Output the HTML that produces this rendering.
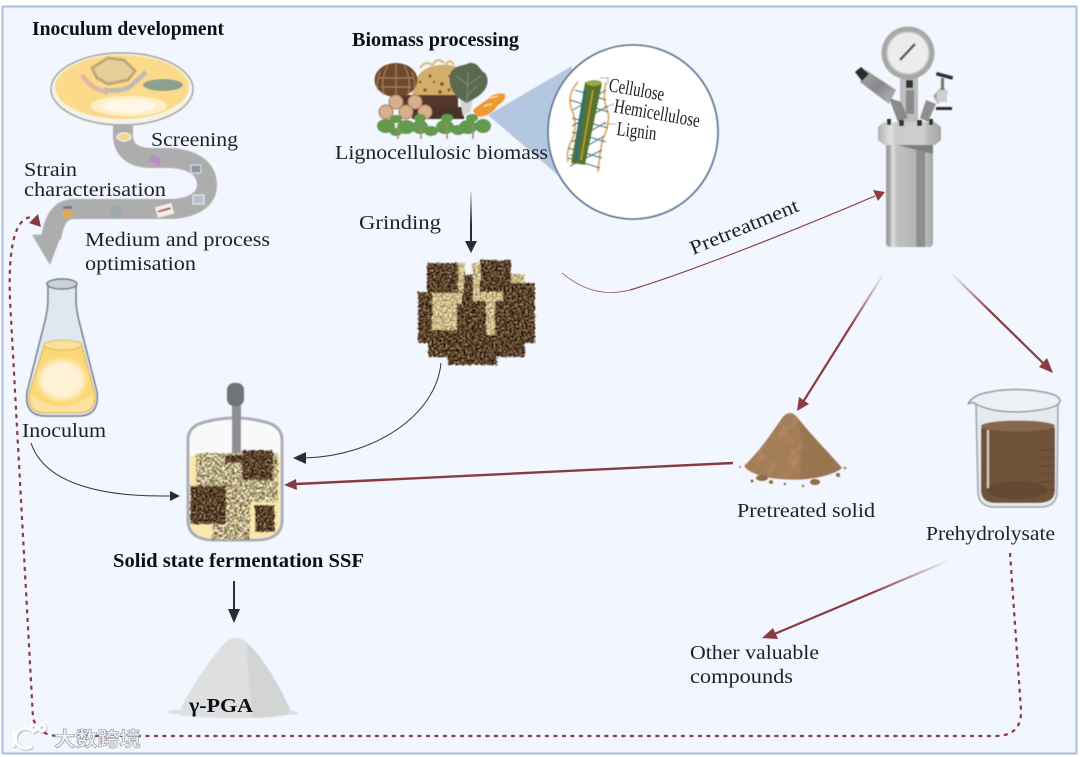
<!DOCTYPE html>
<html lang="en"><head><meta charset="utf-8"><title>SSF process</title>
<style>
html,body{margin:0;padding:0;background:#fff;width:1080px;height:757px;overflow:hidden}
svg{display:block}
text{font-family:"Liberation Serif","Noto Serif CJK SC",serif;fill:#1d2025;font-size:20px}
.b{font-weight:bold;fill:#0f1114}
</style></head><body>
<svg width="1080" height="757" viewBox="0 0 1080 757" xmlns="http://www.w3.org/2000/svg">
<defs>
<filter id="dark" x="-10%" y="-10%" width="120%" height="120%" color-interpolation-filters="sRGB">
<feTurbulence type="fractalNoise" baseFrequency="0.5" numOctaves="2" seed="4" result="n"/>
<feDisplacementMap in="SourceGraphic" in2="n" scale="4" result="d"/>
<feColorMatrix in="n" type="matrix" values="1.5 0 0 0 -0.43  1.3 0 0 0 -0.42  1 0 0 0 -0.35  0 0 0 0 1" result="c"/>
<feComposite in="c" in2="d" operator="in"/>
</filter>
<filter id="light" x="-10%" y="-10%" width="120%" height="120%" color-interpolation-filters="sRGB">
<feTurbulence type="fractalNoise" baseFrequency="0.5" numOctaves="2" seed="9" result="n"/>
<feDisplacementMap in="SourceGraphic" in2="n" scale="3" result="d"/>
<feColorMatrix in="n" type="matrix" values="1.1 0 0 0 .24  1.1 0 0 0 .17  1.1 0 0 0 -.02  0 0 0 0 1" result="c"/>
<feComposite in="c" in2="d" operator="in"/>
</filter>
<filter id="lightG" x="-10%" y="-10%" width="120%" height="120%" color-interpolation-filters="sRGB">
<feTurbulence type="fractalNoise" baseFrequency="0.4" numOctaves="2" seed="5" result="n"/>
<feDisplacementMap in="SourceGraphic" in2="n" scale="4" result="d"/>
<feColorMatrix in="n" type="matrix" values="1.5 0 0 0 -.04  1.5 0 0 0 -.09  1.7 0 0 0 -.35  0 0 0 0 1" result="c"/>
<feComposite in="c" in2="d" operator="in"/>
</filter>
<filter id="mott" x="-5%" y="-5%" width="110%" height="110%" color-interpolation-filters="sRGB">
<feTurbulence type="fractalNoise" baseFrequency="0.09" numOctaves="2" seed="7" result="n"/>
<feColorMatrix in="n" type="matrix" values="0 0 0 0 .74  0 0 0 0 .57  0 0 0 0 .41  1.8 0 0 0 -.85" result="c"/>
<feComposite in="c" in2="SourceGraphic" operator="in" result="s"/>
<feMerge><feMergeNode in="SourceGraphic"/><feMergeNode in="s"/></feMerge>
</filter>
<filter id="soft" x="-5%" y="-5%" width="110%" height="110%"><feGaussianBlur stdDeviation="0.45"/></filter>
<filter id="softT" x="-5%" y="-5%" width="110%" height="110%"><feGaussianBlur stdDeviation="0.28"/></filter>
<filter id="blur3" x="-30%" y="-30%" width="160%" height="160%"><feGaussianBlur stdDeviation="2.6"/></filter>
<linearGradient id="fGrind" gradientUnits="userSpaceOnUse" x1="471" y1="192" x2="471" y2="225"><stop offset="0" stop-color="#2b2d31" stop-opacity=".1"/><stop offset="1" stop-color="#2b2d31"/></linearGradient>
<linearGradient id="fA" gradientUnits="userSpaceOnUse" x1="884" y1="273" x2="850" y2="328"><stop offset="0" stop-color="#8a3a42" stop-opacity="0"/><stop offset="1" stop-color="#8a3a42"/></linearGradient>
<linearGradient id="fB" gradientUnits="userSpaceOnUse" x1="951" y1="273" x2="990" y2="312"><stop offset="0" stop-color="#8a3a42" stop-opacity="0"/><stop offset="1" stop-color="#8a3a42"/></linearGradient>
<linearGradient id="fC" gradientUnits="userSpaceOnUse" x1="950" y1="560" x2="870" y2="594"><stop offset="0" stop-color="#8a3a42" stop-opacity="0"/><stop offset="1" stop-color="#8a3a42"/></linearGradient>
<linearGradient id="steel" x1="0" x2="1" y1="0" y2="0">
<stop offset="0" stop-color="#9c9c9c"/><stop offset=".08" stop-color="#a6a6a6"/><stop offset=".14" stop-color="#e0e0e0"/><stop offset=".24" stop-color="#c0c0c0"/><stop offset=".64" stop-color="#b4b4b4"/><stop offset=".65" stop-color="#8e8e8e"/><stop offset=".83" stop-color="#8e8e8e"/><stop offset=".84" stop-color="#bcbcbc"/><stop offset="1" stop-color="#a8a8a8"/>
</linearGradient>
<linearGradient id="lid" x1="0" x2="1" y1="0" y2="0">
<stop offset="0" stop-color="#b0b0b0"/><stop offset=".2" stop-color="#e2e2e2"/><stop offset=".28" stop-color="#cacaca"/><stop offset=".7" stop-color="#cfcfcf"/><stop offset=".8" stop-color="#bbb"/><stop offset="1" stop-color="#a6a6a6"/>
</linearGradient>
<linearGradient id="arm" x1="0" x2="1" y1="0" y2="1"><stop offset="0" stop-color="#aaa"/><stop offset=".5" stop-color="#888"/><stop offset="1" stop-color="#bbb"/></linearGradient>
</defs>

<rect x="0" y="0" width="1080" height="757" fill="#fff"/>
<rect x="2.5" y="6.5" width="1074" height="747" fill="#f2f6fe" stroke="#a9bcdc" stroke-width="2"/>

<g filter="url(#soft)">
<!-- Petri dish -->
<ellipse cx="122" cy="89" rx="71" ry="36" fill="#f4f2ea" stroke="#a5a39a" stroke-width="1.5"/>
<ellipse cx="122" cy="87" rx="67" ry="32" fill="#fbdb89"/>
<path d="M92 68 L108 58 L124 60 L135 71 L128 80 L108 84 L97 78Z" fill="#e0cd9e" stroke="#b39878" stroke-width="3" opacity=".8"/>
<path d="M82 75 Q90 88 108 93" stroke="#e7b4a6" stroke-width="5" fill="none"/>
<path d="M104 90 Q125 92 132 85 L146 72" stroke="#c2bcb0" stroke-width="5" fill="none"/>
<ellipse cx="163" cy="85" rx="20" ry="6" fill="#8ca08e"/>
<ellipse cx="129" cy="106" rx="38" ry="10" fill="#fdf0c8"/>
<ellipse cx="129" cy="106" rx="26" ry="7" fill="#fff8e6"/>
<!-- road -->
<path d="M123 124 V136 Q124 157 150 158 H172 C195 160 207 170 207 185 C207 200 192 208 172 209 H75 C60 209 55 218 51 238" fill="none" stroke="#adadad" stroke-width="20"/>
<polygon points="32,235 62,233 50,265" fill="#adadad"/>
<ellipse cx="124" cy="137" rx="7" ry="4" fill="#f2d58a" stroke="#fff" stroke-width="1"/>
<rect x="150" y="156" width="11" height="8" fill="#b68fc0" transform="rotate(25 155 160)"/>
<rect x="191" y="165" width="10" height="8" fill="#8d96a4" stroke="#dfe3ea"/>
<rect x="193" y="195" width="11" height="9" fill="#b7c1cc" stroke="#e8edf4"/>
<rect x="156" y="205" width="17" height="11" fill="#f4ede6" transform="rotate(-15 164 210)"/>
<rect x="158" y="209" width="13" height="2" fill="#a84a50" transform="rotate(-15 164 210)"/>
<rect x="111" y="206" width="11" height="12" fill="#97a7ad" opacity=".8"/>
<rect x="63" y="208" width="9" height="10" fill="#e0aa55"/><rect x="63" y="206" width="9" height="3" fill="#5f7fa0"/>

<!-- Flask -->
<path d="M48 285 H76 V300 Q76 310 80 325 L97 392 Q100 416 78 416 H46 Q24 416 27 392 L44 325 Q48 310 48 300Z" fill="#dfe7f0" stroke="#6e7683" stroke-width="1.5"/>
<path d="M44 346 Q62 350 82 346 L95 394 Q97 413 78 413 H46 Q27 413 29 394Z" fill="#fbd876" stroke="#e2ae45" stroke-width="1"/>
<ellipse cx="63" cy="345" rx="19" ry="5" fill="#fde098" stroke="#d7a83f" stroke-width=".8"/>
<path d="M31 394 Q60 418 93 394 L94 400 Q92 412 78 412 H46 Q31 412 31 400Z" fill="#fbe39f"/>
<ellipse cx="62" cy="380" rx="23" ry="20" fill="#fff2d6" filter="url(#blur3)"/>
<ellipse cx="62" cy="284" rx="15" ry="5" fill="#c9d2dc" stroke="#6e7683" stroke-width="1.5"/>

<!-- Biomass -->
<path d="M412 96 Q414 72 430 67 Q445 62 460 68 L466 97 H412Z" fill="#d1ae69"/>
<path d="M420 68 q6 -8 12 -3 M432 66 q5 -10 12 -3 M445 66 q4 -9 9 -1" stroke="#d9b86f" stroke-width="2" fill="none"/>
<g fill="#7d5e2b"><circle cx="430" cy="76" r="1.6"/><circle cx="442" cy="84" r="2"/><circle cx="425" cy="90" r="1.8"/><circle cx="450" cy="76" r="1.6"/><circle cx="440" cy="92" r="2"/><circle cx="434" cy="82" r="1.2"/><circle cx="420" cy="82" r="1.4"/><circle cx="449" cy="90" r="1.6"/></g>
<ellipse cx="396" cy="80" rx="21.5" ry="17" fill="#6f4a2c"/>
<path d="M396 64 V96 M388 65 Q380 80 384 95 M404 65 Q412 80 408 95 M380 72 Q376 82 378 90 M412 72 Q416 82 414 90 M379 78 H413 M381 87 H411" stroke="#a08060" stroke-width="1.2" fill="none"/>
<rect x="400" y="95" width="58" height="13" fill="#54382a"/>
<rect x="412" y="107" width="52" height="12" fill="#4a3025"/>
<g fill="#d8ae8b" stroke="#a17a5c" stroke-width="1">
<circle cx="396" cy="102" r="7"/><circle cx="415" cy="102" r="7"/><circle cx="386" cy="112" r="7"/><circle cx="406" cy="112" r="7"/><circle cx="425" cy="112" r="7"/></g>
<path d="M460 100 L463 116 L470 112 L473 100Z" fill="#cfd8d0"/>
<path d="M467 103 C451 96 447 82 451 72 C455 65 464 66 469 63 C479 62 479 70 485 73 C490 80 488 90 477 97 Z" fill="#5a6a50"/>
<path d="M467 102 L468 72 M468 85 L456 76 M468 85 L481 76 M468 95 L478 85" stroke="#7f8f70" stroke-width="1" fill="none"/>
<path d="M473 110 Q480 104 488 99 Q494 92 505 94 Q506 101 498 105 Q492 115 480 117 Q474 115 473 110Z" fill="#ee9a2f"/>
<path d="M490 98 l8 -2 M484 106 l8 -2" stroke="#fbd9a0" stroke-width="1.5"/>
<g fill="#649a4f">
<ellipse cx="386" cy="126" rx="9" ry="7"/><ellipse cx="396" cy="119" rx="6" ry="4"/><ellipse cx="396" cy="132" rx="6" ry="4"/><ellipse cx="406" cy="127" rx="9" ry="7"/><ellipse cx="420" cy="127" rx="8" ry="7"/><ellipse cx="420" cy="118" rx="6" ry="4"/><ellipse cx="431" cy="131" rx="7" ry="5"/><ellipse cx="445" cy="127" rx="9" ry="7"/><ellipse cx="447" cy="118" rx="6" ry="4"/><ellipse cx="458" cy="130" rx="7" ry="5"/><ellipse cx="468" cy="127" rx="9" ry="7"/><ellipse cx="472" cy="118" rx="6" ry="4"/><ellipse cx="483" cy="126" rx="8" ry="7"/></g>
<path d="M398 124 V139 M421 124 V139 M447 124 V139 M473 124 V139" stroke="#9a8a70" stroke-width="1.5"/>

<!-- Magnifier -->
<polygon points="488,115 572,66 566,182" fill="#b4c7e0"/>
<ellipse cx="633" cy="132" rx="85" ry="87" fill="#fff" stroke="#47608a" stroke-width="1.6"/>
<path d="M578 82 Q566 95 572 110 Q578 125 572 140 Q566 150 568 162" stroke="#e3a64a" stroke-width="1.8" fill="none"/>
<path d="M606 82 Q602 100 608 112 Q610 125 603 138 Q600 150 598 172" stroke="#e3a64a" stroke-width="1.8" fill="none"/>
<g stroke="#3a7b8c" stroke-width="1.3">
<path d="M570 100 L608 112 M606 90 L573 110 M572 118 L608 128 M608 106 L572 126 M572 132 L606 142 M606 122 L572 142 M568 148 L602 158 M604 136 L570 156 M568 158 L600 168 M602 150 L570 166 M575 90 L606 100"/></g>
<polygon points="585,82 602,84 585,165 571,163" fill="#56742a"/>
<ellipse cx="594" cy="83" rx="8" ry="3" fill="#9aa845"/>
<path d="M585 90 L576 160" stroke="#2f6f78" stroke-width="3"/>
<path d="M593 90 L581 160" stroke="#c99a38" stroke-width="1.5"/>
<path d="M600 78 H608 V84 M608 106 L614 104 M602 124 H616" stroke="#888" stroke-width=".8" fill="none"/>
</g>

<g filter="url(#soft)">
<!-- Ground biomass block -->
<path d="M457 263 H465 V300 H457Z M472 263 H480 V292 H472Z M510 274 H525 V284 H510Z" fill="#000" filter="url(#light)"/>
<g filter="url(#dark)" fill="#000">
<rect x="427" y="263" width="31" height="31"/>
<rect x="480" y="260" width="31" height="33"/>
<rect x="464" y="275" width="9" height="20"/>
<path d="M418 292 H510 V283 H535 V343 H525 V357 H497 V365 H448 V357 H428 V343 H418Z"/>
</g>
<path d="M432 293 H462 V304 H457 V330 H432Z" fill="#000" filter="url(#light)"/>
<path d="M473 292 H503 V301 H495 V335 H486 V301 H473Z" fill="#000" filter="url(#light)"/>

<!-- SSF vessel -->
<path d="M188 440 Q188 426 205 422 Q235 414 265 422 Q282 426 282 440 V520 Q282 540 255 540 H215 Q188 540 188 520Z" fill="#f9f9f9" stroke="#a9adb4" stroke-width="3"/>
<path d="M190 455 H280 V520 Q280 538 255 538 H215 Q190 538 190 520Z" fill="#fbe6ab"/>
<rect x="232" y="402" width="9" height="56" fill="#8c9095"/>
<rect x="227" y="383" width="17" height="23" rx="7" fill="#6f7378"/>
<path d="M196 453 H278 V502 H250 V540 H212 V524 H196Z" fill="#000" filter="url(#lightG)"/>
<g filter="url(#dark)" fill="#000">
<rect x="242" y="450" width="31" height="30"/>
<rect x="190" y="486" width="36" height="38"/>
<rect x="255" y="505" width="20" height="27"/>
<rect x="225" y="455" width="17" height="8"/>
</g>

<!-- γ-PGA pile -->
<path d="M178 715 C187 695 200 672 222 646 Q234 632 246 642 C262 655 282 690 292 714 Q240 722 178 715Z" fill="#dedfdf"/>
<path d="M246 642 C262 655 282 690 292 714 Q270 718 252 718 L248 665Z" fill="#d3d4d4"/>
<ellipse cx="176" cy="712" rx="8" ry="2" fill="#dedfdf"/><ellipse cx="293" cy="713" rx="5" ry="2" fill="#dedfdf"/>

<!-- Reactor -->
<rect x="886" y="140" width="47" height="107" rx="4" fill="url(#steel)"/>
<path d="M897 145 H933 V154Z" fill="#7e7e7e"/>
<path d="M884 122 H935 L941 127 V140 L935 145 H884 L878 140 V127Z" fill="url(#lid)"/>
<rect x="900" y="76" width="18" height="46" fill="#bdbdbd"/>
<rect x="906" y="90" width="8" height="24" fill="#8a8a8a"/>
<rect x="906" y="80" width="7" height="8" fill="#333"/>
<polygon points="866,70 896,90 889,104 860,82" fill="url(#arm)"/>
<polygon points="889,98 901,102 908,118 898,122" fill="#8a8a8a"/>
<polygon points="926,100 936,104 928,122 920,118" fill="#8f8f8f"/>
<polygon points="933,96 942,86 948,92 938,104" fill="#a8a8a8"/>
<rect x="937" y="90" width="10" height="12" fill="#cfcfcf"/>
<polygon points="855,72 861,67 869,74 862,81" fill="#2b2b2b"/>
<rect x="936" y="74" width="17" height="3.5" fill="#2e2e2e" transform="rotate(15 944 76)"/>
<rect x="936" y="107" width="16" height="3" fill="#2e2e2e"/>
<rect x="941" y="78" width="3" height="12" fill="#777"/>
<g fill="#2f3033"><rect x="887" y="119" width="4" height="6"/><rect x="899" y="120" width="5" height="6"/><rect x="917" y="120" width="5" height="6"/><rect x="929" y="119" width="4" height="6"/></g>
<circle cx="908" cy="53" r="26.5" fill="#a8a8a8"/>
<circle cx="908" cy="53" r="21" fill="#ececec" stroke="#c6c6c6" stroke-width="1.5"/>
<path d="M900 60 L915 44" stroke="#555" stroke-width="2.5"/>

<!-- Brown pile -->
<g filter="url(#mott)">
<path d="M744 466 C756 455 770 436 782 418 Q789 409 796 416 C812 436 832 456 842 468 C830 478 800 481 780 479 C765 478 750 474 744 466Z" fill="#a37c58"/>
</g>
<path d="M798 418 C812 436 832 456 842 468 C830 476 810 479 800 480 L802 445Z" fill="#8f6a48" opacity=".45"/>
<g fill="#8c6a4b"><ellipse cx="762" cy="478" rx="6" ry="3"/><ellipse cx="815" cy="482" rx="5" ry="3"/><circle cx="838" cy="475" r="2"/><circle cx="752" cy="481" r="1.5"/><circle cx="785" cy="484" r="1.2"/><circle cx="803" cy="486" r="1.2"/><circle cx="845" cy="468" r="1.2"/><circle cx="740" cy="467" r="1"/><circle cx="771" cy="482" r="2"/></g>

<!-- Beaker -->
<path d="M976 402 L978 493 Q979 507 995 507 H1040 Q1056 507 1057 493 L1058 402Z" fill="#e6eaee" stroke="#9aa3ab" stroke-width="1.5"/>
<path d="M981 428 Q1018 416 1055 428 V490 Q1055 503 1038 503 H996 Q981 503 981 490Z" fill="#6f5338"/>
<ellipse cx="1018" cy="426" rx="37" ry="5.5" fill="#84694e"/>
<ellipse cx="1017" cy="490" rx="30" ry="9" fill="#644a30"/>
<rect x="987" y="430" width="2" height="58" fill="#d8d0c6"/>
<path d="M968 404 Q972 396 985 393 Q1015 386 1048 393 Q1060 396 1060 401 Q1058 410 1018 412 Q990 412 976 404 Q972 401 968 404Z" fill="#eef1f4" stroke="#8f979f" stroke-width="1.5"/>
<path d="M1040 450 h14 M1042 458 h12 M1040 466 h14 M1042 474 h12 M1040 482 h14 M1042 490 h12" stroke="#5a4029" stroke-width=".8"/>

<!-- Watermark logo -->
<g stroke="#a9adb3" fill="none" stroke-width="3" transform="translate(.8 .8)">
<path d="M14 730 V747"/><path d="M34 733 A10 10 0 1 0 32 746"/><circle cx="34" cy="728" r="3"/><circle cx="42" cy="728" r="3"/>
</g>
</g>

<g filter="url(#softT)">
<!-- Connectors -->
<path d="M471 192 V242" stroke="url(#fGrind)" stroke-width="2"/>
<polygon points="465,241 477,241 471,253" fill="#2b2d31"/>
<path d="M441 363 C436 415 375 456 305 458" stroke="#2f3440" stroke-width="1" fill="none"/>
<polygon points="293,458 306,452 306,464" fill="#2b2d31"/>
<path d="M31 443 C45 485 105 497 170 496" stroke="#2f3440" stroke-width="1" fill="none"/>
<polygon points="180,496 170,491 170,501" fill="#2b2d31"/>
<path d="M234 581 V610" stroke="#2b2d31" stroke-width="2"/>
<polygon points="228,609 240,609 234,623" fill="#2b2d31"/>
<path d="M733 463 L296 484" stroke="#8a3a42" stroke-width="2.4"/>
<polygon points="284,485 296,479 297,490" fill="#8a3a42"/>
<path d="M562 273 C585 292 607 296 630 290" stroke="#8a3a42" stroke-width=".7" fill="none"/>
<path d="M630 290 C690 272 800 228 875 196" stroke="#8a3a42" stroke-width="1.2" fill="none"/>
<polygon points="885,192 873,190 878,201" fill="#8a3a42"/>
<path d="M884 273 L803 402" stroke="url(#fA)" stroke-width="2.2"/>
<polygon points="797,411 799,397 809,404" fill="#8a3a42"/>
<path d="M951 273 L1044 364" stroke="url(#fB)" stroke-width="2.2"/>
<polygon points="1053,373 1039,367 1047,358" fill="#8a3a42"/>
<path d="M950 560 L772 635" stroke="url(#fC)" stroke-width="2.2"/>
<polygon points="762,638 773,628 778,639" fill="#8a3a42"/>
<path d="M1010 553 L1021 710 Q1022 736 995 736 H60 Q38 736 33 718 L10 300 Q7 218 32 217" stroke="#8a3a42" stroke-width="2.2" fill="none" stroke-dasharray="4 4.5"/>
<polygon points="41,227 29,223 38,214" fill="#8a3a42"/>

<!-- Watermark -->
<g stroke="#fff" fill="none" stroke-width="3">
<path d="M14 730 V747"/><path d="M34 733 A10 10 0 1 0 32 746"/><circle cx="34" cy="728" r="3"/><circle cx="42" cy="728" r="3"/>
</g>
<text x="54" y="746" font-size="22" font-weight="bold" textLength="87" lengthAdjust="spacingAndGlyphs" style="fill:#f2f3f5;font-family:'Liberation Sans','Noto Sans CJK SC',sans-serif;stroke:#8f939b;stroke-width:.6px">大数跨境</text>
<text x="608" y="91" font-size="13" textLength="56" lengthAdjust="spacingAndGlyphs" transform="rotate(10 608 91)">Cellulose</text>
<text x="613" y="112" font-size="13" textLength="87" lengthAdjust="spacingAndGlyphs" transform="rotate(10 613 112)">Hemicellulose</text>
<text x="616" y="135" font-size="13" textLength="40" lengthAdjust="spacingAndGlyphs" transform="rotate(7 616 135)">Lignin</text>
<text class="b" x="32" y="35" textLength="192" lengthAdjust="spacingAndGlyphs">Inoculum development</text>
<text class="b" x="352" y="46" textLength="167" lengthAdjust="spacingAndGlyphs">Biomass processing</text>
<text x="151" y="146" textLength="87" lengthAdjust="spacingAndGlyphs">Screening</text>
<text x="24" y="176" textLength="53" lengthAdjust="spacingAndGlyphs">Strain</text>
<text x="24" y="196" textLength="142" lengthAdjust="spacingAndGlyphs">characterisation</text>
<text x="85" y="246" textLength="185" lengthAdjust="spacingAndGlyphs">Medium and process</text>
<text x="85" y="270" textLength="111" lengthAdjust="spacingAndGlyphs">optimisation</text>
<text x="335" y="159" textLength="213" lengthAdjust="spacingAndGlyphs">Lignocellulosic biomass</text>
<text x="359" y="229" textLength="82" lengthAdjust="spacingAndGlyphs">Grinding</text>
<text x="693" y="255" textLength="116" lengthAdjust="spacingAndGlyphs" transform="rotate(-22.5 693 255)">Pretreatment</text>
<text x="22" y="437" textLength="84" lengthAdjust="spacingAndGlyphs">Inoculum</text>
<text class="b" x="113" y="567" textLength="251" lengthAdjust="spacingAndGlyphs">Solid state fermentation SSF</text>
<text class="b" x="189" y="712" font-size="23" textLength="64" lengthAdjust="spacingAndGlyphs">γ-PGA</text>
<text x="737" y="517" textLength="138" lengthAdjust="spacingAndGlyphs">Pretreated solid</text>
<text x="926" y="540" textLength="129" lengthAdjust="spacingAndGlyphs">Prehydrolysate</text>
<text x="690" y="659" textLength="129" lengthAdjust="spacingAndGlyphs">Other valuable</text>
<text x="690" y="683" textLength="103" lengthAdjust="spacingAndGlyphs">compounds</text>
</g>
</svg>
</body></html>
